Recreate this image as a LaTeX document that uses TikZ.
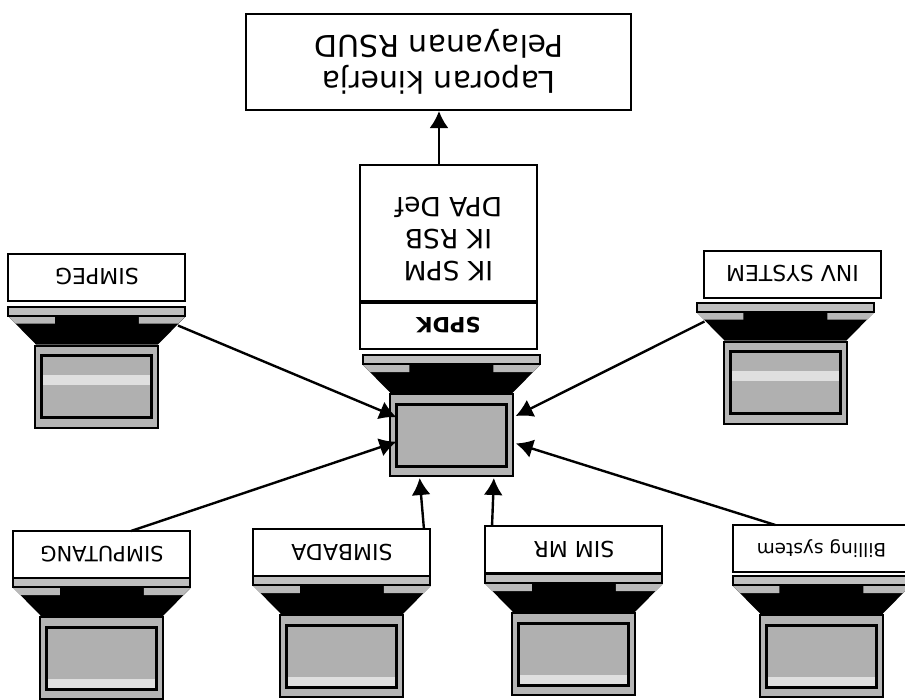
\documentclass[tikz,border=0pt]{standalone}
\usepackage{fontspec}
\setmainfont{DejaVu Sans}
\usetikzlibrary{arrows.meta, positioning}

\begin{document}
\begin{tikzpicture}[
  x=1pt, y=1pt, rotate=180, transform shape,
  box/.style={draw, line width=2pt, align=center, inner sep=0pt, outer sep=0pt, minimum width=177pt, minimum height=47pt, font=\fontsize{22}{26}\selectfont},
  arrow/.style={-{Latex[length=17pt, width=19pt]}, line width=2.4pt},
  frame/.style={draw, line width=2pt, fill=gray!58, inner sep=0pt, outer sep=0pt, minimum width=123pt, minimum height=82pt},
  panel/.style={draw, line width=3pt, inner sep=0pt, outer sep=0pt, minimum width=110pt, minimum height=62pt},
  strip/.style={draw, line width=2pt, fill=gray!50, inner sep=0pt, outer sep=0pt, minimum width=177pt, minimum height=9pt},
  pics/laptop/.style 2 args={code={
    \node[frame] (-screen) at (0,0) {};
    \fill[gray!62] (-55,-31) rectangle (55,31);
    \fill[#2] (-55,#1-5) rectangle (55,#1+5);
    \node[panel] (-panel) at (0,0) {};
    \fill (-61,-42) -- (61,-42) -- (88.5,-70) -- (-88.5,-70) -- cycle;
    \fill[gray!55] (-42,-70) -- (-42,-63) -- (-81.5,-63) -- (-88.5,-70) -- cycle;
    \fill[gray!55] (42,-70) -- (42,-63) -- (81.5,-63) -- (88.5,-70) -- cycle;
    \node[strip] (-strip) at (0,-75.5) {};
    \coordinate (-left) at (-81,-61);
    \coordinate (-right) at (81,-61);
  }}
]
\useasboundingbox (0,0) rectangle (905,699);

\pic (hub) at (453.5,435) {laptop={0}{gray!62}};
\pic (simpeg) at (808,386.5) {laptop={-7}{gray!25}};
\pic (inv) at (119.5,382.5) {laptop={-7}{gray!25}};
\pic (simputang) at (803,658) {laptop={26}{gray!25}};
\pic (simbada) at (563,656) {laptop={26}{gray!25}};
\pic (simmr) at (331,654) {laptop={26}{gray!25}};
\pic (billing) at (83.5,656) {laptop={26}{gray!25}};

\node[box, below=6pt of simpeg-strip] (simpeg) {SIMPEG};
\node[box, below=5pt of inv-strip, xshift=-7pt] (inv) {INV SYSTEM};
\node[box, below=0pt of simputang-strip, font=\fontsize{21}{25}\selectfont] (simputang) {SIMPUTANG};
\node[box, below=0pt of simbada-strip] (simbada) {SIMBADA};
\node[box, below=1pt of simmr-strip] (simmr) {SIM MR};
\node[box, below=4pt of billing-strip, font=\fontsize{18.5}{22}\selectfont] (billing) {Billing system};
\node[box, below=6pt of hub-strip, xshift=3pt, font=\bfseries\fontsize{21}{25}\selectfont] (spdk) {SPDK};
\node[box, below=0pt of spdk, minimum height=137pt, text depth=12pt, font=\fontsize{26.5}{32}\selectfont] (ik) {IK SPM\\IK RSB\\DPA Def};
\node[box, below=55pt of ik, xshift=9.5pt, minimum width=385pt, minimum height=96pt, font=\fontsize{30}{36}\selectfont] (laporan) {Laporan kinerja\\Pelayanan RSUD};

\draw[line width=3.5pt] (spdk.south west) -- (spdk.south east);

\draw[arrow] (simpeg-left) -- (hub-panel.-18);
\draw[arrow] (simputang.219) -- (hub-panel.7);
\draw[arrow, shorten >=2pt] (simbada.196) -- (hub-screen.52);
\draw[arrow, shorten >=2pt] (simmr.-16) -- (hub-screen.136);
\draw[arrow, shorten >=3pt] (billing.-27) -- (hub-screen.173);
\draw[arrow, shorten >=3pt] (inv-right) -- (hub-screen.196);
\draw[arrow, shorten >=1pt] (ik.south -| laporan.north) -- (laporan.north);
\end{tikzpicture}
\end{document}
